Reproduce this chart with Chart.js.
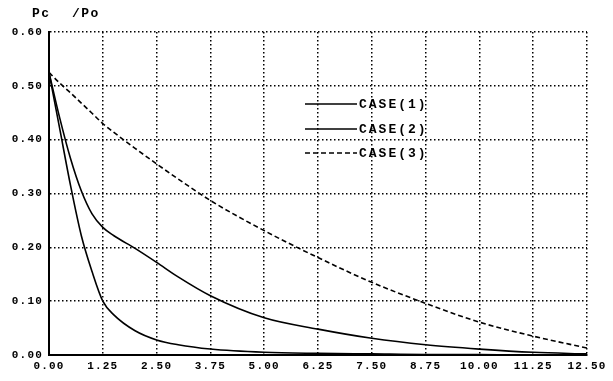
<!DOCTYPE html>
<html>
<head>
<meta charset="utf-8">
<script src="https://cdn.jsdelivr.net/npm/chart.js"></script>
<style>
  html, body { margin: 0; padding: 0; background: #fff; }
  #wrap { width: 613px; height: 381px; }
</style>
</head>
<body>
<div id="wrap"><canvas id="grafico" width="613" height="381"></canvas></div>
<script>
// abscissa samples shared by the three cases
const xSteps = [0, 0.25, 0.5, 0.75, 1, 1.25, 1.5, 2, 2.5, 3, 3.75, 5, 6.25, 7.5, 8.75, 10, 11.25, 12.5];

// Pc/Po for each case
const case1 = [0.525, 0.42, 0.315, 0.222, 0.155, 0.100, 0.075, 0.045, 0.028, 0.019, 0.011, 0.005, 0.003, 0.002, 0.001, 0.001, 0.000, 0.000];
const case2 = [0.525, 0.44, 0.365, 0.305, 0.262, 0.237, 0.222, 0.198, 0.172, 0.145, 0.110, 0.069, 0.048, 0.031, 0.019, 0.011, 0.005, 0.002];
const case3 = [0.525, 0.505, 0.487, 0.468, 0.449, 0.430, 0.414, 0.384, 0.355, 0.327, 0.287, 0.231, 0.181, 0.135, 0.096, 0.061, 0.035, 0.013];

const seriesNames = ['CASE(1)', 'CASE(2)', 'CASE(3)'];
const axisTitle = ['Pc', '/Po'];

const xRange = [0, 12.5], xStep = 1.25;
const yRange = [0, 0.6], yStep = 0.1;

const FONT = "'Liberation Mono', 'DejaVu Sans Mono', monospace";

const pts = ys => xSteps.map((x, i) => ({ x, y: ys[i] }));

// title and legend drawn by hand, printer style
const printerText = {
  id: 'printerText',
  beforeDraw(chart) {
    chart.ctx.letterSpacing = '1.2px';
  },
  afterDatasetsDraw(chart) {
    const { ctx } = chart;
    ctx.save();
    ctx.fillStyle = '#000';
    ctx.strokeStyle = '#000';
    ctx.textBaseline = 'middle';

    // axis title
    ctx.letterSpacing = '1.5px';
    ctx.font = 'bold 13px ' + FONT;
    ctx.fillText(axisTitle[0], 32, 14);
    ctx.fillText(axisTitle[1], 72, 14);

    // legend
    ctx.letterSpacing = '2px';
    const rows = [104, 129, 153];
    seriesNames.forEach((name, i) => {
      const ds = chart.data.datasets[i];
      ctx.lineWidth = ds.borderWidth;
      ctx.setLineDash(ds.borderDash || []);
      ctx.beginPath();
      ctx.moveTo(305, rows[i]);
      ctx.lineTo(357, rows[i]);
      ctx.stroke();
      ctx.setLineDash([]);
      ctx.fillText(name, 359, rows[i] + 1);
    });
    ctx.restore();
  }
};

const ctx = document.getElementById('grafico').getContext('2d');

new Chart(ctx, {
  type: 'line',
  data: {
    datasets: [
      { label: seriesNames[0], data: pts(case1), borderColor: '#000', borderWidth: 1.6 },
      { label: seriesNames[1], data: pts(case2), borderColor: '#000', borderWidth: 1.6 },
      { label: seriesNames[2], data: pts(case3), borderColor: '#000', borderWidth: 1.6, borderDash: [5, 3] }
    ]
  },
  options: {
    responsive: false,
    animation: false,
    layout: { padding: { top: 32, right: 26, left: 0, bottom: 0 } },
    elements: {
      point: { radius: 0 },
      line: { cubicInterpolationMode: 'monotone', fill: false }
    },
    plugins: {
      legend: { display: false },
      tooltip: { enabled: false }
    },
    scales: {
      x: {
        type: 'linear',
        min: xRange[0],
        max: xRange[1],
        afterFit: s => { s.height = 26; },
        ticks: {
          stepSize: xStep,
          color: '#000',
          padding: 5,
          maxRotation: 0,
          autoSkip: false,
          font: { family: FONT, size: 11, weight: 'bold' },
          callback: v => Number(v).toFixed(2)
        },
        grid: { color: '#000', lineWidth: 1.5, drawTicks: false },
        border: { display: true, color: '#000', width: 2, dash: [1.5, 2.5] }
      },
      y: {
        min: yRange[0],
        max: yRange[1],
        afterFit: s => { s.width = 49; },
        ticks: {
          stepSize: yStep,
          color: '#000',
          padding: 6,
          font: { family: FONT, size: 11, weight: 'bold' },
          callback: v => Number(v).toFixed(2)
        },
        grid: { color: '#000', lineWidth: 1.5, drawTicks: false },
        border: { display: true, color: '#000', width: 2, dash: [1.5, 2.5] }
      }
    }
  },
  plugins: [printerText]
});
</script>
</body>
</html>
